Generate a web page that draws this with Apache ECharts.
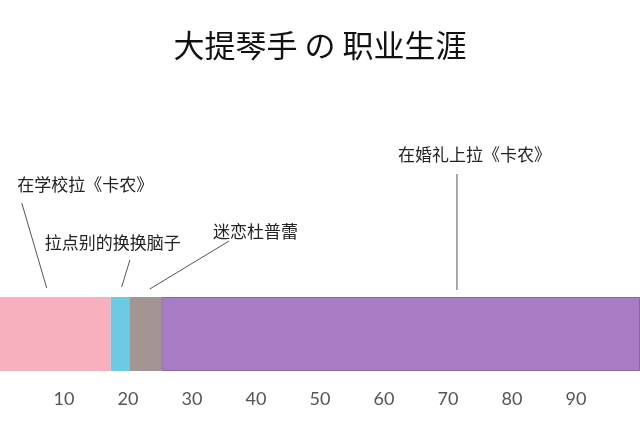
<!DOCTYPE html>
<html>
<head>
<meta charset="utf-8">
<script src="https://cdn.jsdelivr.net/npm/echarts@6/dist/echarts.min.js"></script>
<style>html,body{margin:0;padding:0;background:#fff;}#main{width:640px;height:424px;}</style>
</head>
<body>
<div id="main"></div>
<script>
// Data
var stages = ['在学校拉《卡农》', '拉点别的换换脑子', '迷恋杜普蕾', '在婚礼上拉《卡农》'];
var durations = [17.3, 2.9, 5.0, 74.8];
var colors = ['#F9B0BE', '#6CCBE4', '#A39592', '#A77CC5'];
var axisMin = 0, axisMax = 100, axisStep = 10;
// annotation anchor values (axis units): line bottom, line top, label left
var lineBottomX = [7.3, 19.0, 23.4, 71.4];
var lineTopX = [3.4, 20.3, 35.8, 71.4];
var labelLeftX = [2.7, 7.0, 33.3, 62.2];

var chart = echarts.init(document.getElementById('main'));
var series = stages.map(function (name, i) {
  var s = {
    name: name,
    type: 'bar',
    stack: 'career',
    barWidth: '100%',
    data: [durations[i]],
    itemStyle: { color: colors[i] },
    silent: true
  };
  if (i === 3) { s.itemStyle.borderColor = '#86699C'; s.itemStyle.borderWidth = 1; }
  return s;
});
chart.setOption({
  animation: false,
  backgroundColor: '#fff',
  title: {
    text: '大提琴手 の 职业生涯',
    left: 'center',
    top: 25,
    textStyle: { fontFamily: 'Noto Sans CJK SC', fontSize: 31, fontWeight: 'normal', color: '#111' }
  },
  grid: { left: 0, right: -1, top: 297, height: 74, containLabel: false },
  xAxis: {
    type: 'value', min: axisMin, max: axisMax, interval: axisStep,
    axisLine: { show: false }, axisTick: { show: false }, splitLine: { show: false },
    axisLabel: {
      showMinLabel: false, showMaxLabel: false, margin: 19,
      color: '#555', fontSize: 18, fontFamily: 'Lato'
    }
  },
  yAxis: { type: 'category', data: ['career'], show: false },
  series: series
});

var lineYBottom = [288, 287, 289, 290];
var lineYTop = [203, 260, 241, 174];
var labelY = [185, 243, 232, 155];
var graphics = [];
stages.forEach(function (name, i) {
  var xb = chart.convertToPixel({ xAxisIndex: 0 }, lineBottomX[i]);
  var xt = chart.convertToPixel({ xAxisIndex: 0 }, lineTopX[i]);
  var xl = chart.convertToPixel({ xAxisIndex: 0 }, labelLeftX[i]);
  graphics.push({
    type: 'line', silent: true,
    shape: { x1: xb, y1: lineYBottom[i], x2: xt, y2: lineYTop[i] },
    style: { stroke: '#555', lineWidth: 1 }
  });
  graphics.push({
    type: 'text', silent: true,
    x: xl, y: labelY[i],
    style: { text: name, fill: '#222', font: '17px "Noto Sans CJK SC"', textAlign: 'left', textVerticalAlign: 'middle' }
  });
});
chart.setOption({ graphic: graphics });
</script>
</body>
</html>
